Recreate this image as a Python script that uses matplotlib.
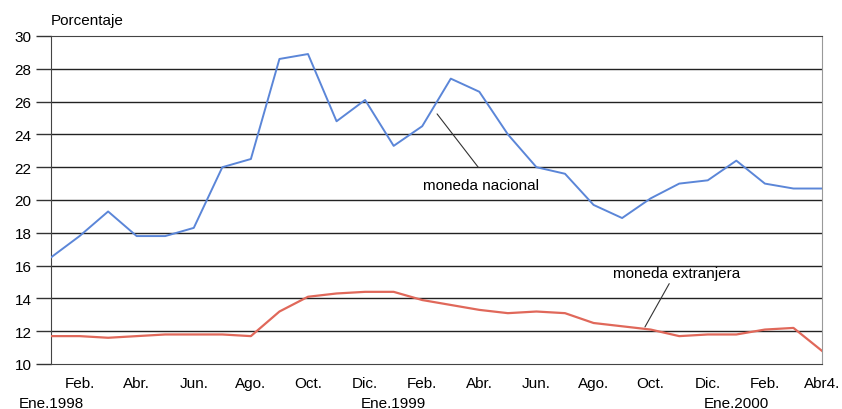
import numpy as np
import matplotlib.pyplot as plt

plt.rcParams['font.family'] = ['Liberation Sans', 'DejaVu Sans']

# monthly series, Ene.1998 .. Abr4.2000
nacional = [16.5, 17.8, 19.3, 17.8, 17.8, 18.3, 22.0, 22.5, 28.6, 28.9,
            24.8, 26.1, 23.3, 24.5, 27.4, 26.6, 24.0, 22.0, 21.6, 19.7,
            18.9, 20.1, 21.0, 21.2, 22.4, 21.0, 20.7, 20.7]
extranjera = [11.7, 11.7, 11.6, 11.7, 11.8, 11.8, 11.8, 11.7, 13.2, 14.1,
              14.3, 14.4, 14.4, 13.9, 13.6, 13.3, 13.1, 13.2, 13.1, 12.5,
              12.3, 12.1, 11.7, 11.8, 11.8, 12.1, 12.2, 10.8]
month_labels = ["Feb.", "Abr.", "Jun.", "Ago.", "Oct.", "Dic.",
                "Feb.", "Abr.", "Jun.", "Ago.", "Oct.", "Dic.",
                "Feb.", "Abr4."]
year_labels = ["Ene.1998", "Ene.1999", "Ene.2000"]

x = np.arange(len(nacional))
fs = 11

fig = plt.figure(figsize=(8.42, 4.10), dpi=100)
ax = fig.add_axes([51/842, 45/410, 771/842, 328/410])

ax.set_ylim(10, 30)
ax.set_xlim(0, len(x) - 1)
ax.set_yticks(np.arange(10, 31, 2))
for yv in np.arange(12, 30, 2):
    ax.axhline(yv, color="#222222", lw=1.0, zorder=1)

ax.plot(x, nacional, color="#5b86d8", lw=1.4, zorder=3)
ax.plot(x, extranjera, color="#e0685a", lw=1.6, zorder=3)

ax.set_xticks(x[1::2])
ax.set_xticklabels(month_labels)
ax.set_xticks(x[::12], minor=True)
ax.set_xticklabels(year_labels, minor=True)
ax.tick_params(axis="x", which="major", length=0, pad=9, labelsize=fs)
ax.tick_params(axis="x", which="minor", length=0, pad=23, labelsize=fs)
ax.tick_params(axis="y", length=11, width=1, color="#333333", labelsize=fs, pad=3)

for side in ["left", "bottom", "top"]:
    ax.spines[side].set_linestyle((0, (2, 1)))
    ax.spines[side].set_color("#444444")
ax.spines["right"].set_linestyle((0, (2, 1)))
ax.spines["right"].set_color("#999999")

ax.text(0, 30.55, "Porcentaje", fontsize=fs, ha="left", va="bottom")

# leader lines + labels
ax.annotate("", xy=(13.52, 25.25), xytext=(14.96, 22.0),
            arrowprops=dict(arrowstyle="-", color="#333333", lw=0.8,
                            shrinkA=0, shrinkB=0))
ax.text(15.06, 20.9, "moneda nacional", fontsize=fs, ha="center", va="center")
ax.annotate("", xy=(20.8, 12.26), xytext=(21.65, 14.9),
            arrowprops=dict(arrowstyle="-", color="#333333", lw=0.8,
                            shrinkA=0, shrinkB=0))
ax.text(21.9, 15.55, "moneda extranjera", fontsize=fs, ha="center", va="center")

fig.savefig("out.png", dpi=100)
